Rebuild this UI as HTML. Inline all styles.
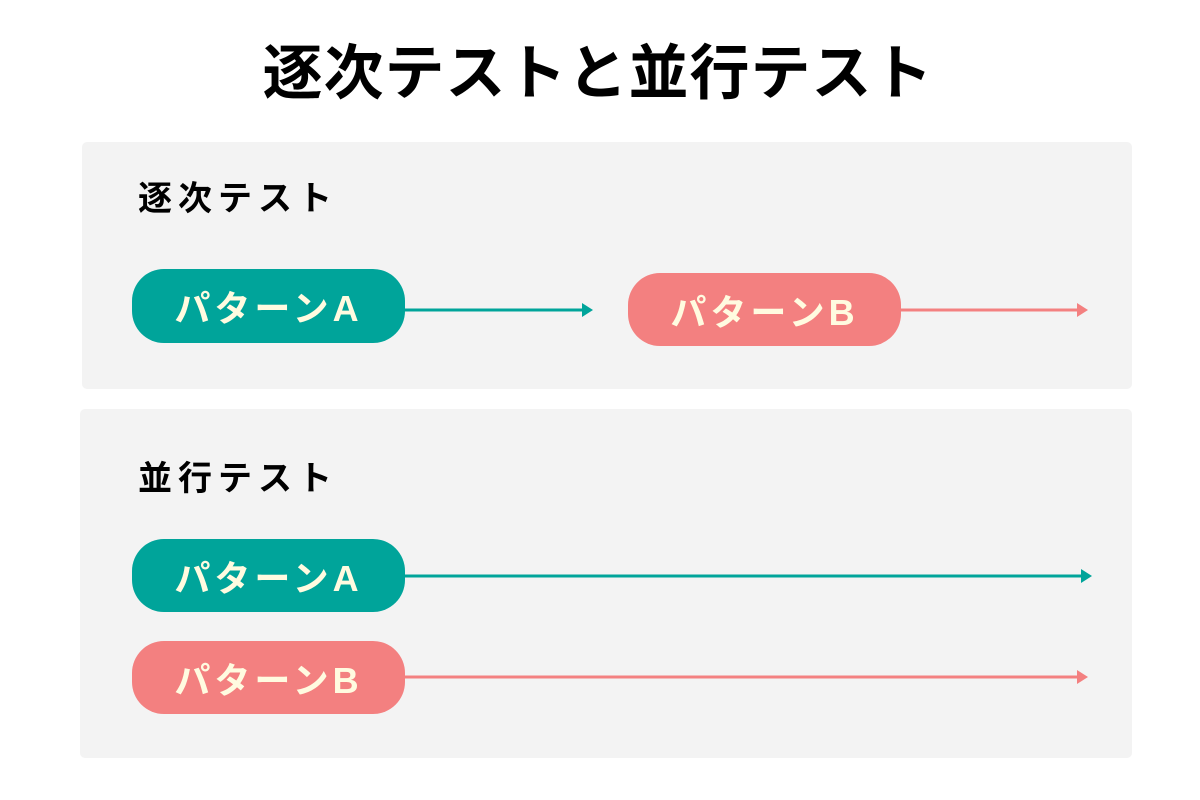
<!DOCTYPE html>
<html><head><meta charset="utf-8"><style>
body{margin:0;width:1200px;height:800px;background:#fff;position:relative;overflow:hidden;font-family:"Liberation Sans","Noto Sans CJK JP",sans-serif;}
.abs{position:absolute;}
.title{left:0;width:1196px;top:30px;text-align:center;font-size:60px;font-weight:bold;letter-spacing:1px;line-height:88px;color:#000;white-space:nowrap;}
.panel{background:#f3f3f3;border-radius:5px;}
.lbl{font-size:34px;font-weight:bold;letter-spacing:6px;color:#000;line-height:40px;}
.pill{border-radius:32px;color:#fffbe0;font-weight:bold;font-size:36px;letter-spacing:4px;text-align:center;display:flex;align-items:center;justify-content:center;}
.a{background:#00a49a}.b{background:#f38080}
</style></head><body>
<div class="abs title">逐次テストと並行テスト</div>
<div class="abs panel" style="left:82px;top:142px;width:1050px;height:247px"></div>
<div class="abs panel" style="left:80px;top:409px;width:1052px;height:349px"></div>
<div class="abs lbl" style="left:138px;top:179px">逐次テスト</div>
<div class="abs lbl" style="left:138px;top:459px">並行テスト</div>
<svg class="abs" style="left:0;top:0" width="1200" height="800">
<g stroke-width="3" fill="none" stroke-linecap="round">
<line x1="400" y1="310" x2="588" y2="310" stroke="#00a49a"/>
<line x1="896" y1="310" x2="1084" y2="310" stroke="#f38080"/>
<line x1="400" y1="576" x2="1088" y2="576" stroke="#00a49a"/>
<line x1="400" y1="677" x2="1084" y2="677" stroke="#f38080"/>
</g>
<path d="M582,303 L593,310 L582,317Z" fill="#00a49a"/>
<path d="M1077,303 L1088,310 L1077,317Z" fill="#f38080"/>
<path d="M1081,569 L1092,576 L1081,583Z" fill="#00a49a"/>
<path d="M1077,670 L1088,677 L1077,684Z" fill="#f38080"/>
</svg>
<div class="abs pill a" style="left:132px;top:269px;width:273px;height:74px">パターンA</div>
<div class="abs pill b" style="left:628px;top:273px;width:273px;height:73px">パターンB</div>
<div class="abs pill a" style="left:132px;top:539px;width:273px;height:73px">パターンA</div>
<div class="abs pill b" style="left:132px;top:641px;width:273px;height:73px">パターンB</div>
</body></html>
